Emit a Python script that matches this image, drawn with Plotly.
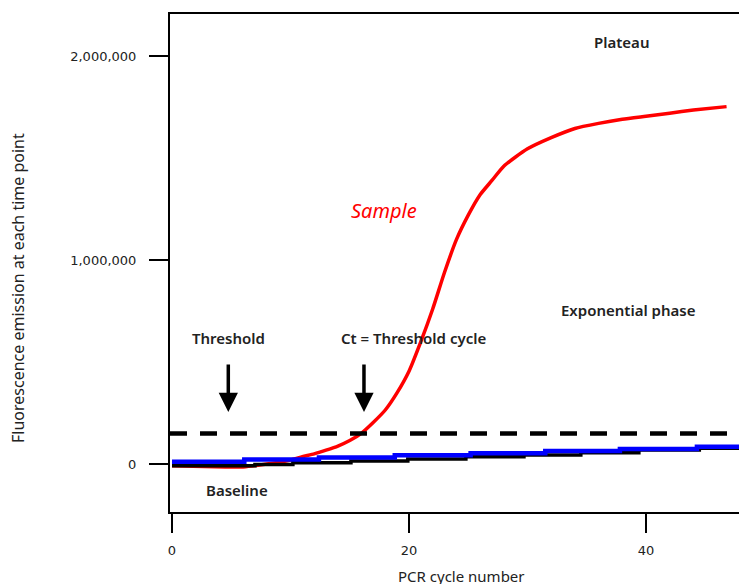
import plotly.graph_objects as go

# ---- data ----
sample_cycles = [0, 4.5, 6, 8, 10, 11, 12, 13, 14, 15, 16, 17, 18, 19, 20, 21, 22, 23, 24, 25,
                 26, 27, 28, 30, 32, 34, 36, 38, 40, 42, 44, 46.8]
sample_values = [-8000, -14000, -14000, 0, 20000, 36000, 50000, 68000, 88000, 115000, 152000,
                 205000, 265000, 350000, 455000, 600000, 760000, 940000, 1100000, 1220000,
                 1320000, 1390000, 1460000, 1545000, 1600000, 1645000, 1670000, 1690000,
                 1705000, 1720000, 1735000, 1752000]

black_cycles = [0, 7.0, 10.2, 15.1, 19.9, 24.8, 29.7, 34.5, 39.4, 44.5, 48]
black_values = [-8000, -2000, 6000, 15000, 25000, 36000, 44000, 55000, 69000, 78000, 78000]

blue_cycles = [0, 6.1, 12.4, 18.8, 25.2, 31.5, 37.8, 44.3, 48]
blue_values = [11000, 22000, 32000, 43000, 53000, 64000, 74000, 85000, 85000]

threshold_value = 150000
threshold_span = [-0.17, 48]

arrow_cycles = [4.75, 16.2]
arrow_top = 495000
arrow_bottom = 255000

x_ticks = [0, 20, 40]
y_ticks = [0, 1000000, 2000000]
y_tick_labels = ["0", "1,000,000", "2,000,000"]

label_font = "Noto Sans"

fig = go.Figure()

fig.add_trace(go.Scatter(x=sample_cycles, y=sample_values, mode="lines",
                         line=dict(color="#ff0000", width=3.5, shape="spline", smoothing=0.6),
                         hoverinfo="skip"))
fig.add_trace(go.Scatter(x=black_cycles, y=black_values, mode="lines", line_shape="hv",
                         line=dict(color="#000000", width=3.5), hoverinfo="skip"))
fig.add_trace(go.Scatter(x=blue_cycles, y=blue_values, mode="lines", line_shape="hv",
                         line=dict(color="#0000ff", width=4.5), hoverinfo="skip"))
fig.add_trace(go.Scatter(x=threshold_span, y=[threshold_value, threshold_value], mode="lines",
                         line=dict(color="#000000", width=4.5, dash="17px,13px"),
                         hoverinfo="skip"))

annotations = []
for c in arrow_cycles:
    annotations.append(dict(x=c, y=arrow_bottom, ax=c, ay=arrow_top, xref="x", yref="y",
                            axref="x", ayref="y", showarrow=True, arrowhead=2,
                            arrowsize=1.1, arrowwidth=3.5, arrowcolor="#000000", text=""))

def label(text, x, y, color="#222222", size=15, weight=600, style="normal"):
    return dict(text=text, x=x, y=y, xref="x", yref="y", showarrow=False,
                font=dict(family=label_font, size=size, color=color, weight=weight, style=style),
                xanchor="center", yanchor="middle")

annotations += [
    label("Threshold", 4.75, 620000),
    label("Ct = Threshold cycle", 20.4, 620000),
    label("Sample", 17.9, 1245000, color="#ff0000", size=20, weight=400, style="italic"),
    label("Plateau", 37.9, 2070000),
    label("Exponential phase", 38.5, 755000),
    label("Baseline", 5.5, -125000),
]

annotations.append(dict(text="Fluorescence emission at each time point", xref="paper", yref="paper",
                        x=-0.267, y=0.45, textangle=-90, showarrow=False,
                        font=dict(family=label_font, size=16, color="#222222"),
                        xanchor="center", yanchor="middle"))
annotations.append(dict(text="PCR cycle number", x=24.4, y=-0.1285, xref="x", yref="paper",
                        showarrow=False, font=dict(family=label_font, size=15, color="#222222"),
                        xanchor="center", yanchor="middle"))

fig.update_layout(
    width=739, height=584,
    margin=dict(l=170, r=0, t=14, b=72),
    paper_bgcolor="white", plot_bgcolor="white",
    showlegend=False,
    annotations=annotations,
    xaxis=dict(range=[-0.17, 47.85], tickvals=x_ticks, showgrid=False, zeroline=False,
               showline=True, linecolor="#000000", linewidth=2, mirror=True,
               ticks="outside", ticklen=19, tickwidth=2, tickcolor="#000000",
               ticklabelstandoff=6,
               tickfont=dict(family="DejaVu Sans", size=13, color="#222222")),
    yaxis=dict(range=[-235000, 2206000], tickvals=y_ticks, ticktext=y_tick_labels,
               showgrid=False, zeroline=False, showline=True, linecolor="#000000",
               linewidth=2, ticks="outside", ticklen=19, tickwidth=2, tickcolor="#000000",
               ticklabelstandoff=10,
               tickfont=dict(family="DejaVu Sans", size=13, color="#222222")),
)

# remove the default page margin so the figure fills the 739x584 window exactly
fig.write_html("out.html", config={"displayModeBar": False},
               post_script="document.body.style.margin='0';document.body.style.overflow='hidden';")
